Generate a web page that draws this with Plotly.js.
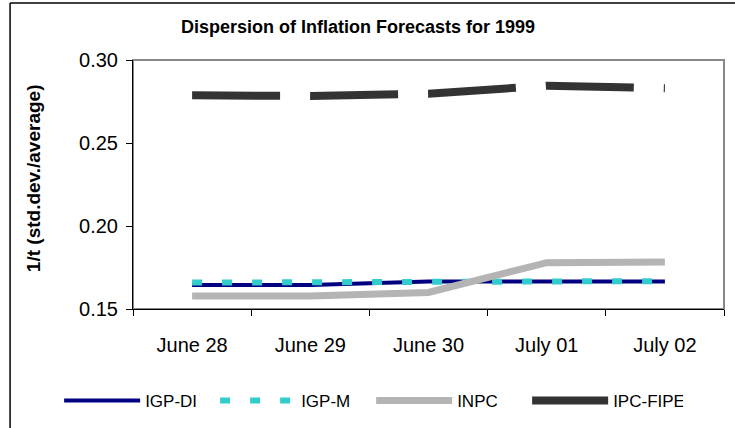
<!DOCTYPE html>
<html>
<head>
<meta charset="utf-8">
<script src="https://cdn.plot.ly/plotly-3.0.1.min.js"></script>
<style>html,body{margin:0;padding:0;background:#fff;}#chart{width:735px;height:428px;}</style>
</head>
<body>
<div id="chart"></div>
<script>
var categories = ['June 28', 'June 29', 'June 30', 'July 01', 'July 02'];
var igpDI   = [0.1645, 0.1645, 0.1665, 0.1665, 0.1665];
var igpM    = [0.1659, 0.1659, 0.1668, 0.1668, 0.1668];
var inpc    = [0.1578, 0.1578, 0.1600, 0.1779, 0.1783];
var ipcFipe = [0.2787, 0.2783, 0.2797, 0.2845, 0.2830];
var yTicks  = [0.15, 0.20, 0.25, 0.30];

var FONT = 'Liberation Sans, Arial, sans-serif';

var traces = [
  {x: categories, y: igpDI, name: 'IGP-DI', mode: 'lines', line: {color: '#000080', width: 4}},
  {x: categories, y: igpM, name: 'IGP-M', mode: 'lines', line: {color: '#33CCCC', width: 6, dash: '10px,20px'}},
  {x: categories, y: inpc, name: 'INPC', mode: 'lines', line: {color: '#b4b4b4', width: 7}},
  {x: categories, y: ipcFipe, name: 'IPC-FIPE', mode: 'lines', line: {color: '#333333', width: 8, dash: '88px,30px'}},
  /* empty legend spacer so the last legend label is not clipped */
  {x: [null], y: [null], name: ' ', mode: 'lines', line: {color: 'rgba(0,0,0,0)', width: 0}, hoverinfo: 'skip'}
];

var layout = {
  width: 735, height: 428,
  margin: {l: 133, r: 11, t: 60, b: 119, autoexpand: false},
  paper_bgcolor: '#fff', plot_bgcolor: '#fff',
  font: {family: FONT, color: '#000'},
  title: {text: '<b>Dispersion of Inflation Forecasts for 1999</b>', font: {size: 18, family: FONT, color: '#000'},
          x: 0.487, xanchor: 'center', y: 0.937, yanchor: 'middle'},
  xaxis: {type: 'category', tickson: 'boundaries', ticks: 'outside', ticklen: 6, tickcolor: '#000', tickwidth: 1,
          showline: true, linecolor: '#000', linewidth: 1, showgrid: false, zeroline: false,
          tickfont: {size: 20, family: FONT, color: '#000'}, ticklabelstandoff: 18, range: [-0.5, 4.5]},
  yaxis: {range: [0.15, 0.30], tickvals: yTicks, tickformat: '.2f', ticks: 'outside', ticklen: 6, tickcolor: '#000',
          showline: true, linecolor: '#000', linewidth: 1, showgrid: false, zeroline: false,
          tickfont: {size: 20, family: FONT, color: '#000'}, ticklabelstandoff: 4},
  annotations: [
    {text: '<b>1/t (std.dev./average)</b>', xref: 'paper', yref: 'paper', x: -0.169, y: 0.526,
     xanchor: 'center', yanchor: 'middle', textangle: -90, showarrow: false,
     font: {size: 19, family: FONT, color: '#000'}}
  ],
  showlegend: true,
  legend: {orientation: 'h', x: -0.125, xanchor: 'left', y: -0.297, yanchor: 'top',
           font: {size: 17, family: FONT, color: '#000'}, itemwidth: 76, entrywidth: 65, entrywidthmode: 'pixels',
           bgcolor: 'rgba(0,0,0,0)', traceorder: 'normal'},
  shapes: [
    {type: 'rect', xref: 'paper', yref: 'paper', x0: 0, x1: 1, y0: 0, y1: 1, layer: 'below',
     line: {color: '#888888', width: 2}},
    {type: 'line', xref: 'paper', yref: 'paper', x0: -0.208, x1: -0.208, y0: 1.229, y1: -0.5,
     line: {color: '#000', width: 1.5}},
    {type: 'line', xref: 'paper', yref: 'paper', x0: -0.208, x1: 1.03, y0: 1.229, y1: 1.229,
     line: {color: '#000', width: 1.5}}
  ]
};

Plotly.newPlot('chart', traces, layout, {displayModeBar: false, staticPlot: true});
</script>
</body>
</html>
